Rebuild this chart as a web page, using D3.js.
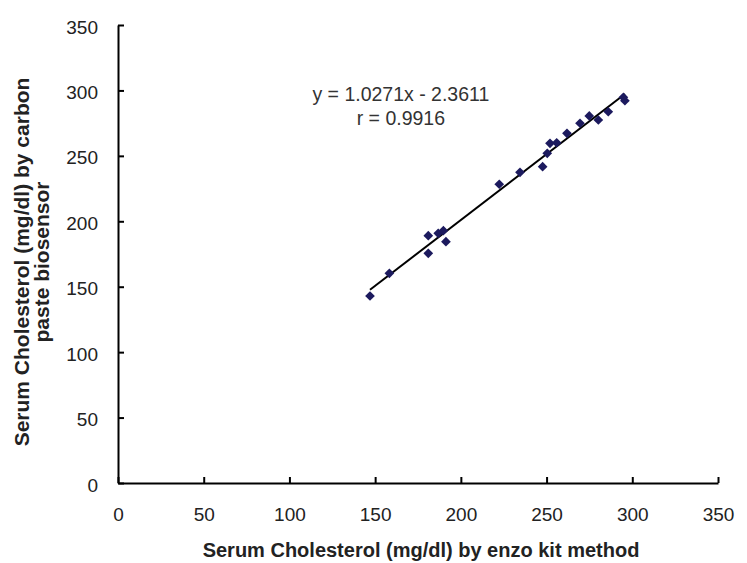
<!DOCTYPE html>
<html>
<head>
<meta charset="utf-8">
<script src="https://cdn.jsdelivr.net/npm/d3@7"></script>
<style>
  body { margin: 0; background: #fff; }
  svg { display: block; font-family: "Liberation Sans", Arial, sans-serif; }
</style>
</head>
<body>
<div id="chart"></div>
<script>
// enzo kit method (x) vs carbon paste biosensor (y), mg/dl
const kitValues = [147.0, 158.3, 181.0, 181.0, 186.8, 189.8, 191.3, 222.4, 234.5, 247.7,
                   250.4, 252.0, 255.9, 261.9, 269.5, 274.9, 280.2, 286.0, 294.8, 295.7];
const sensorValues = [142.9, 160.2, 175.5, 189.0, 190.8, 192.8, 184.4, 228.3, 237.4, 241.7,
                      251.9, 259.6, 260.0, 267.2, 274.9, 280.5, 277.4, 283.7, 294.7, 292.1];
const tickValues = [0, 50, 100, 150, 200, 250, 300, 350];
const equationLabels = ["y = 1.0271x - 2.3611", "r = 0.9916"];

const data = kitValues.map((x, i) => ({ x: x, y: sensorValues[i] }));

const W = 747, H = 563;
const margin = { top: 25, right: 29, bottom: 80, left: 118 };
const width = W - margin.left - margin.right,
      height = H - margin.top - margin.bottom;

const svg = d3.select("#chart").append("svg")
    .attr("width", W)
    .attr("height", H);

const g = svg.append("g")
    .attr("transform", `translate(${margin.left},${margin.top})`);

const x = d3.scaleLinear().domain([0, 350]).range([0, width]);
const y = d3.scaleLinear().domain([0, 350]).range([height, 0]);

// axes, ticks pointing inward
const xAxis = g.append("g")
    .attr("transform", `translate(0,${height})`)
    .call(d3.axisBottom(x).tickValues(tickValues).tickSizeInner(-6).tickSizeOuter(0).tickPadding(25));

const yAxis = g.append("g")
    .call(d3.axisLeft(y).tickValues(tickValues).tickSizeInner(-6).tickSizeOuter(0).tickPadding(20));

[xAxis, yAxis].forEach(a => {
    a.select(".domain").attr("stroke", "#000").attr("stroke-width", 2);
    a.selectAll(".tick line").attr("stroke", "#000").attr("stroke-width", 2);
    a.selectAll(".tick text").attr("font-size", 19).attr("fill", "#222")
        .attr("font-family", "Liberation Sans, Arial, sans-serif");
});
yAxis.selectAll(".tick text").attr("y", 2);

// least-squares trend line through the plotted points
const mx = d3.mean(kitValues), my = d3.mean(sensorValues);
const b = d3.sum(data, d => (d.x - mx) * (d.y - my)) / d3.sum(data, d => (d.x - mx) ** 2);
const a0 = my - b * mx;
const xr = d3.extent(kitValues);
g.append("line")
    .attr("x1", x(xr[0])).attr("y1", y(b * xr[0] + a0))
    .attr("x2", x(xr[1])).attr("y2", y(b * xr[1] + a0))
    .attr("stroke", "#000")
    .attr("stroke-width", 2);

// diamond markers
const diamond = d3.symbol().type(d3.symbolDiamond2).size(60);
g.selectAll("path.pt")
    .data(data)
    .enter().append("path")
    .attr("class", "pt")
    .attr("d", diamond)
    .attr("transform", d => `translate(${x(d.x)},${y(d.y)})`)
    .attr("fill", "#1c1a5e");

// equation text
g.append("text")
    .attr("x", x(165))
    .attr("y", y(292))
    .attr("text-anchor", "middle")
    .attr("font-size", 19.5)
    .attr("fill", "#333")
    .selectAll("tspan")
    .data(equationLabels)
    .enter().append("tspan")
    .attr("x", x(165))
    .attr("dy", (d, i) => i === 0 ? 0 : 24)
    .text(d => d);

// axis titles
svg.append("text")
    .attr("x", 421)
    .attr("y", 557)
    .attr("text-anchor", "middle")
    .attr("font-size", 20)
    .attr("font-weight", "bold")
    .attr("fill", "#222")
    .text("Serum Cholesterol (mg/dl) by enzo kit method");

const yTitle = svg.append("text")
    .attr("transform", `translate(29,262) rotate(-90)`)
    .attr("text-anchor", "middle")
    .attr("font-size", 21)
    .attr("font-weight", "bold")
    .attr("fill", "#222");
yTitle.append("tspan").attr("x", 0).attr("dy", 0).text("Serum Cholesterol (mg/dl) by carbon");
yTitle.append("tspan").attr("x", 0).attr("dy", 20).text("paste biosensor");
</script>
</body>
</html>
